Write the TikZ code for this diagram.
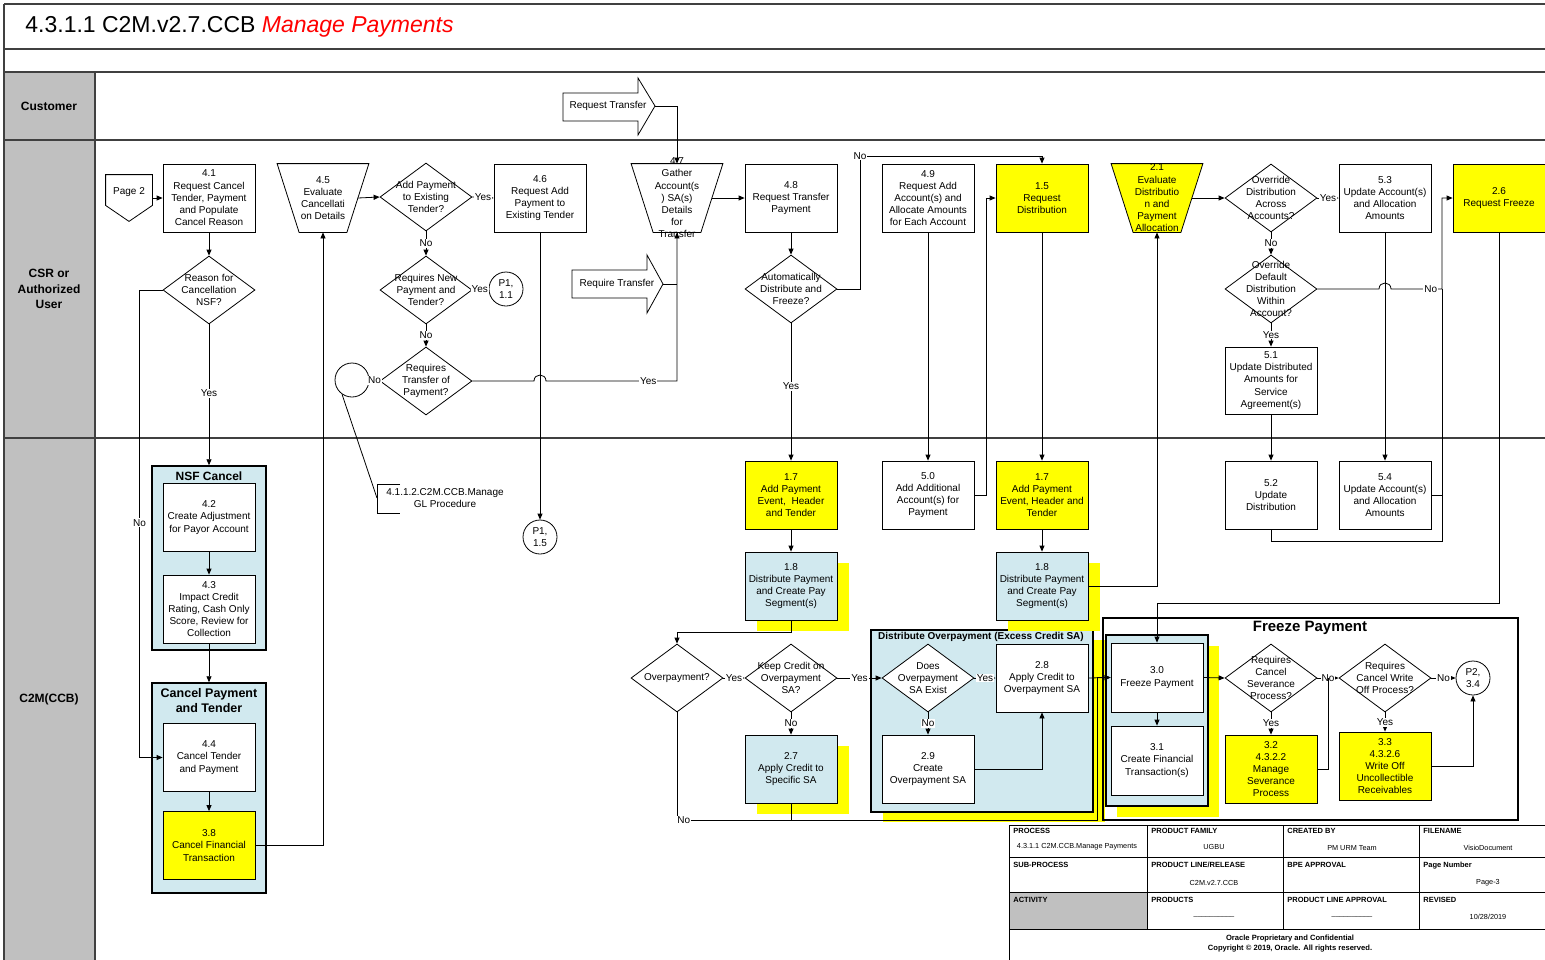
\documentclass[tikz,border=0pt]{standalone}
\usepackage{fontspec}
\setmainfont{Liberation Sans}
\usetikzlibrary{arrows.meta,shapes.geometric,calc,shadows}
\definecolor{lb}{RGB}{209,233,239}
\definecolor{lg}{RGB}{192,192,192}
\definecolor{ye}{RGB}{255,255,0}
\begin{document}
\begin{tikzpicture}[x=1pt,y=-1pt,line width=0.8pt,
  every node/.style={font=\fontsize{10}{12.2}\selectfont},
  bx/.style={draw,rectangle,minimum width=92pt,minimum height=68pt,inner sep=1pt,align=center,fill=white},
  yb/.style={bx,fill=ye},
  bb/.style={bx,fill=lb},
  ysh/.style={drop shadow={shadow xshift=12pt,shadow yshift=-11pt,fill=ye,opacity=1}},
  dia/.style={diamond,draw,minimum width=92pt,minimum height=68pt,inner sep=0pt,fill=white},
  lbl/.style={align=center,inner sep=0pt,font=\fontsize{10}{12.2}\selectfont},
  trapbox/.style={rectangle,minimum width=91pt,minimum height=68pt,inner sep=0pt},
  circ/.style={circle,draw,minimum size=34pt,inner sep=0pt,align=center,fill=white},
  cont/.style={draw,line width=1.5pt,fill=lb},
  el/.style={fill=white,inner sep=1pt,font=\fontsize{10}{12}\selectfont},
  arr/.style={-{Triangle[length=6pt,width=5pt]}},
  frame/.style={line width=1.3pt,draw=black!75},
  th/.style={anchor=north west,inner sep=0pt,font=\fontsize{7.5}{8}\selectfont\bfseries},
  tv/.style={inner sep=0pt,font=\fontsize{7.3}{8}\selectfont}]
\useasboundingbox (0,0) rectangle (1545,959);

% lanes
\fill[lg] (4,72) rectangle (95,965);
\draw[frame] (4,4) -- (1550,4);
\draw[frame] (4,49) -- (1550,49);
\draw[frame] (4,72) -- (1550,72);
\draw[frame] (4,140) -- (1550,140);
\draw[frame] (4,438) -- (1550,438);
\draw[frame] (4,4) -- (4,965);
\draw[frame] (95,72) -- (95,965);

\node[anchor=west,inner sep=0pt,font=\fontsize{23}{27}\selectfont] (title) at (25,27) {4.3.1.1 C2M.v2.7.CCB \textcolor{red}{\itshape Manage Payments}};
\node[font=\fontsize{12}{15}\selectfont\bfseries] (lC) at (49,106) {Customer};
\node[font=\fontsize{12}{15.5}\selectfont\bfseries,align=center] (lCSR) at (49,289) {CSR or\\Authorized\\User};
\node[font=\fontsize{12}{15}\selectfont\bfseries] (lC2M) at (49,699) {C2M(CCB)};

% containers
\node[cont,minimum width=114pt,minimum height=184pt] (nsf) at (209,558) {};
\node[font=\fontsize{12}{15}\selectfont\bfseries] (nsfT) at (209,476) {NSF Cancel};
\node[cont,minimum width=114pt,minimum height=210pt] (cpt) at (209,788) {};
\node[font=\fontsize{12.5}{15}\selectfont\bfseries,align=center] (cptT) at (209,700.5) {Cancel Payment\\and Tender};
\node[cont,minimum width=222pt,minimum height=182pt,drop shadow={shadow xshift=12pt,shadow yshift=-10pt,fill=ye,opacity=1}] (dov) at (982,721) {};
\node[font=\fontsize{10}{12}\selectfont\bfseries] (dovT) at (981,637) {Distribute Overpayment (Excess Credit SA)};
\node[draw,line width=1.3pt,minimum width=415pt,minimum height=202pt] (frz) at (1310.5,719) {};
\node[font=\fontsize{15}{18}\selectfont\bfseries] (frzT) at (1310,628) {Freeze Payment};
\node[cont,minimum width=102pt,minimum height=171pt,drop shadow={shadow xshift=11pt,shadow yshift=-11pt,fill=ye,opacity=1}] (frzi) at (1157,720.5) {};

% block arrows in customer / CSR lanes
\draw (563,93) -- (638,93) -- (638,78) -- (655,106) -- (638,135) -- (638,121) -- (563,121) -- cycle;
\node (rqT) at (608,106) {Request Transfer};
\coordinate (rq1tip) at (655,106);
\draw (572,270) -- (647,270) -- (647,255) -- (663,284) -- (647,313) -- (647,298) -- (572,298) -- cycle;
\node (rq2) at (617,284) {Require Transfer};
\coordinate (rq2tip) at (663,284);

% page connector
\node[minimum width=46pt,minimum height=46pt,inner sep=0pt] (page2) at (129,198) {};
\draw (page2.north west) -- (page2.north east) -- ([yshift=16pt]page2.south east) -- (page2.south) -- ([yshift=16pt]page2.south west) -- cycle;
\node (page2t) at (129,192) {Page 2};

% CSR lane boxes
\node[bx] (n41) at (209,198) {4.1\\Request Cancel\\Tender, Payment\\and Populate\\Cancel Reason};
\node[bx] (n46) at (540,198) {4.6\\Request Add\\Payment to\\Existing Tender};
\node[bx] (n48) at (791,198) {4.8\\Request Transfer\\Payment};
\node[bx] (n49) at (928,198) {4.9\\Request Add\\Account(s) and\\Allocate Amounts\\for Each Account};
\node[yb] (n15) at (1042,198) {1.5\\Request\\Distribution};
\node[bx] (n53) at (1385,198) {5.3\\Update Account(s)\\and Allocation\\Amounts};
\node[yb] (n26) at (1499,198) {2.6\\Request Freeze};
\node[bx,minimum height=67pt] (n51) at (1271,380.5) {5.1\\Update Distributed\\Amounts for\\Service\\Agreement(s)};

% trapezoids
\node[trapbox] (t45) at (323,198) {};
\draw[fill=white] (t45.north west) -- (t45.north east) -- ([xshift=-22pt]t45.south east) -- ([xshift=22pt]t45.south west) -- cycle;
\node[lbl] (t45x) at (t45) {4.5\\Evaluate\\Cancellati\\on Details};
\node[trapbox] (t47) at (677,198) {};
\draw[fill=white] (t47.north west) -- (t47.north east) -- ([xshift=-22pt]t47.south east) -- ([xshift=22pt]t47.south west) -- cycle;
\node[lbl] (t47x) at (t47) {4.7\\Gather\\Account(s\\) SA(s)\\Details\\for\\Transfer};
\node[trapbox] (t21) at (1157,198) {};
\draw[fill=ye] (t21.north west) -- (t21.north east) -- ([xshift=-22pt]t21.south east) -- ([xshift=22pt]t21.south west) -- cycle;
\node[lbl] (t21x) at (t21) {2.1\\Evaluate\\Distributio\\n and\\Payment\\Allocation};

\node[dia,label={[lbl]center:{Reason for\\Cancellation\\NSF?}}] (dNSF) at (209,290) {};
\node[dia,label={[lbl]center:{Add Payment\\to Existing\\Tender?}}] (dAdd) at (426,197) {};
\node[dia,label={[lbl]center:{Requires New\\Payment and\\Tender?}}] (dNew) at (426,290) {};
\node[dia,label={[lbl]center:{Requires\\Transfer of\\Payment?}}] (dTr) at (426,381) {};
\node[dia,label={[lbl]center:{Automatically\\Distribute and\\Freeze?}}] (dAuto) at (791,289) {};
\node[dia,label={[lbl]center:{Override\\Distribution\\Across\\Accounts?}}] (dOvA) at (1271,198) {};
\node[dia,label={[lbl]center:{Override\\Default\\Distribution\\Within\\Account?}}] (dOvD) at (1271,289) {};

\node[circ] (cP11) at (506,289) {P1,\\1.1};
\node[circ] (cGL) at (352,380) {};
\node[circ] (cP15) at (540,537) {P1,\\1.5};

% GL bracket
\coordinate (glb) at (377,498);
\draw (400,484) -- (377,484) -- (377,513) -- (400,513);
\node[lbl] (gl) at (445,498) {4.1.1.2.C2M.CCB.Manage\\GL Procedure};
\draw (cGL.235) -- (glb);

% C2M lane boxes
\node[bx] (n42) at (209,517.5) {4.2\\Create Adjustment\\for Payor Account};
\node[bx] (n43) at (209,609) {4.3\\Impact Credit\\Rating, Cash Only\\Score, Review for\\Collection};
\node[bx] (n44) at (209,757.5) {4.4\\Cancel Tender\\and Payment};
\node[yb] (n38) at (209,845.5) {3.8\\Cancel Financial\\Transaction};
\node[yb] (n17a) at (791,495) {1.7\\Add Payment\\Event,\ \ Header\\and Tender};
\node[bx] (n50) at (928,495) {5.0\\Add Additional\\Account(s) for\\Payment};
\node[yb] (n17b) at (1042,495) {1.7\\Add Payment\\Event, Header and\\Tender};
\node[bx] (n52) at (1271,495) {5.2\\Update\\Distribution};
\node[bx] (n54) at (1385,495) {5.4\\Update Account(s)\\and Allocation\\Amounts};
\node[bb,ysh] (n18a) at (791,586) {1.8\\Distribute Payment\\and Create Pay\\Segment(s)};
\node[bb,ysh] (n18b) at (1042,586) {1.8\\Distribute Payment\\and Create Pay\\Segment(s)};
\node[bb,ysh] (n27) at (791,769) {2.7\\Apply Credit to\\Specific SA};
\node[bx] (n28) at (1042,678) {2.8\\Apply Credit to\\Overpayment SA};
\node[bx] (n29) at (928,769) {2.9\\Create\\Overpayment SA};
\node[bx,minimum height=69pt] (n30) at (1157,677.5) {3.0\\Freeze Payment};
\node[bx,minimum height=69pt] (n31) at (1157,760.5) {3.1\\Create Financial\\Transaction(s)};
\node[yb] (n32) at (1271,769) {3.2\\4.3.2.2\\Manage\\Severance\\Process};
\node[yb] (n33) at (1385,766) {3.3\\4.3.2.6\\Write Off\\Uncollectible\\Receivables};

\node[dia,label={[lbl]center:{Overpayment?}}] (dOver) at (677,678) {};
\node[dia,label={[lbl]center:{Keep Credit on\\Overpayment\\SA?}}] (dKeep) at (791,678) {};
\node[dia,label={[lbl]center:{Does\\Overpayment\\SA Exist}}] (dDoes) at (928,678) {};
\node[dia,label={[lbl]center:{Requires\\Cancel\\Severance\\Process?}}] (dSev) at (1271,678) {};
\node[dia,label={[lbl]center:{Requires\\Cancel Write\\Off Process?}}] (dWO) at (1385,678) {};
\node[circ] (cP34) at (1473,678) {P2,\\3.4};

% ---------------- connectors ----------------
\draw[arr] (page2.east) -- (n41.west);
\draw[arr] (n41.south) -- (dNSF.north);
\draw[arr] (dNSF.west) -- ++(-23,0) |- node[el,pos=0.249]{No} (n44.west);
\draw[arr] (dNSF.south) -- node[el,pos=0.49]{Yes} (nsf.north);
\draw[arr] (n42.south) -- (n43.north);
\draw[arr] (n43.south) -- (cpt.north);
\draw[arr] (n44.south) -- (n38.north);
\draw[arr] (n38.east) -| (t45.south);
\draw[arr] ([xshift=-11pt]t45.east) -- (dAdd.west);
\draw[arr] (dAdd.east) -- node[el]{Yes} (n46.west);
\draw[arr] (dAdd.south) -- node[el]{No} (dNew.north);
\draw[arr] (dNew.east) -- node[el,pos=0.45]{Yes} (cP11.west);
\draw[arr] (dNew.south) -- node[el]{No} (dTr.north);
\draw (dTr.west) -- node[el]{No} (cGL.east);
\coordinate (h1) at (n46.south |- dTr.east);
\draw[arr] (dTr.east) -- ([xshift=-6pt]h1) .. controls ([xshift=-6pt,yshift=8pt]h1) and ([xshift=6pt,yshift=8pt]h1) .. ([xshift=6pt]h1) -- node[el,pos=0.78]{Yes} (h1 -| t47.south) -- (t47.south);
\draw[arr] (n46.south) -- (cP15.north);
\draw (rq2tip) -- (rq2tip -| t47.south);
\draw[arr] (rq1tip) -| (t47.north);
\draw[arr] ([xshift=-11pt]t47.east) -- (n48.west);
\draw[arr] (n48.south) -- (dAuto.north);
\coordinate (c1) at (860,156);
\draw[arr] (dAuto.east) -| (c1) node[el]{No} -| (n15.north);
\draw[arr] (dAuto.south) -- node[el,pos=0.457]{Yes} (n17a.north);
\draw[arr] (n17a.south) -- (n18a.north);
\draw[arr] (n18a.south) -- ++(0,12) -| (dOver.north);
\draw[arr] (dOver.east) -- node[el]{Yes} (dKeep.west);
\draw[arr] (dKeep.east) -- node[el]{Yes} (dDoes.west);
\draw[arr] (dKeep.south) -- node[el]{No} (n27.north);
\draw[arr] (dDoes.east) -- node[el]{Yes} (n28.west);
\draw[arr] (dDoes.south) -- node[el]{No} (n29.north);
\draw[arr] (n29.east) -| (n28.south);
\draw[arr] (n28.east) -- (n30.west);
\coordinate (c2) at (1097,820);
\draw[arr] (dOver.south) |- node[el,pos=0.508]{No} (c2) |- (n30.west);
\draw (n27.south) -- (n27.south |- c2);
\draw[arr] (n49.south) -- (n50.north);
\draw[arr] (n50.east) -- ++(12,0) |- (n15.west);
\draw[arr] (n15.south) -- (n17b.north);
\draw[arr] (n17b.south) -- (n18b.north);
\draw[arr] (n18b.east) -| (t21.south);
\draw[arr] ([xshift=-11pt]t21.east) -- (dOvA.west);
\draw[arr] (dOvA.east) -- node[el]{Yes} (n53.west);
\draw[arr] (dOvA.south) -- node[el]{No} (dOvD.north);
\coordinate (h2) at (n53.south |- dOvD.east);
\coordinate (jn) at (1442,541);
\draw[arr] (dOvD.east) -- ([xshift=-6pt]h2) .. controls ([xshift=-6pt,yshift=8pt]h2) and ([xshift=6pt,yshift=8pt]h2) .. ([xshift=6pt]h2) -- node[el,pos=0.78]{No} (h2 -| jn) |- (n26.west);
\draw[arr] (dOvD.south) -- node[el]{Yes} (n51.north);
\draw[arr] (n51.south) -- (n52.north);
\draw[arr] (n53.south) -- (n54.north);
\draw (n52.south) |- (jn) -- (jn |- dOvD.east);
\draw (n54.east) -- (n54.east -| jn);
\draw[arr] (n26.south) -- ++(0,371) -| (n30.north);
\draw[arr] (n30.south) -- (n31.north);
\draw[arr] (n30.east) -- (dSev.west);
\draw[arr] (dSev.south) -- node[el]{Yes} (n32.north);
\draw[arr] (dSev.east) -- node[el]{No} (dWO.west);
\draw (n32.east) -| ($(dSev.east)!0.5!(dWO.west)$);
\draw[arr] (dWO.south) -- node[el]{Yes} (n33.north);
\draw[arr] (dWO.east) -- node[el]{No} (cP34.west);
\draw[arr] (n33.east) -| (cP34.south);

% ---------------- table ----------------
\fill[white] (1009,825) rectangle (1560,965);
\fill[lg] (1009,892) rectangle (1147,929);
\draw (1009,825) -- (1560,825);
\draw (1009,825) -- (1009,965);
\draw (1009,857) -- (1560,857);
\draw (1009,892) -- (1560,892);
\draw (1009,929) -- (1560,929);
\foreach \x in {1147,1283,1419} \draw (\x,825) -- (\x,929);
\node[th] (hA1) at (1013,828) {PROCESS};
\node[th] (hB1) at (1151,828) {PRODUCT FAMILY};
\node[th] (hC1) at (1287,828) {CREATED BY};
\node[th] (hD1) at (1423,828) {FILENAME};
\node[th] (hA2) at (1013,862) {SUB-PROCESS};
\node[th] (hB2) at (1151,862) {PRODUCT LINE/RELEASE};
\node[th] (hC2) at (1287,862) {BPE APPROVAL};
\node[th] (hD2) at (1423,862) {Page Number};
\node[th] (hA3) at (1013,897) {ACTIVITY};
\node[th] (hB3) at (1151,897) {PRODUCTS};
\node[th] (hC3) at (1287,897) {PRODUCT LINE APPROVAL};
\node[th] (hD3) at (1423,897) {REVISED};
\node[tv] (vA1) at (1077,847) {4.3.1.1 C2M.CCB.Manage Payments};
\node[tv] (vB1) at (1214,847) {UGBU};
\node[tv] (vC1) at (1352,848) {PM URM Team};
\node[tv] (vD1) at (1488,848) {VisioDocument};
\node[tv] (vB2) at (1214,883) {C2M.v2.7.CCB};
\node[tv] (vD2) at (1488,883) {Page-3};
\node[tv] (vB3) at (1214,916) {\_\_\_\_\_\_\_\_\_\_};
\node[tv] (vC3) at (1352,916) {\_\_\_\_\_\_\_\_\_\_};
\node[tv] (vD3) at (1488,917) {10/28/2019};
\node[tv,font=\fontsize{7.6}{10}\selectfont\bfseries,align=center] (foot) at (1290,944) {Oracle Proprietary and Confidential\\Copyright © 2019, Oracle. All rights reserved.};
\end{tikzpicture}
\end{document}
